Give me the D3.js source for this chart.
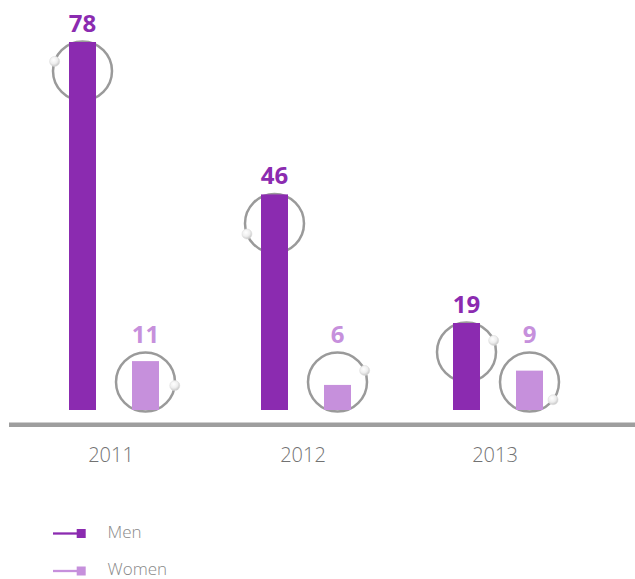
<!DOCTYPE html>
<html>
<head>
<meta charset="utf-8">
<script src="https://cdn.jsdelivr.net/npm/d3@7"></script>
<style>
  html, body { margin: 0; padding: 0; background: #fff; }
  svg { display: block; }
  text { font-family: "Open Sans", "Noto Sans", sans-serif; }
</style>
</head>
<body>
<svg id="chart" width="635" height="579"></svg>
<script>
// Chart data
const years = ["2011", "2012", "2013"];
const seriesNames = ["Men", "Women"];
const menValues = [78, 46, 19];
const womenValues = [11, 6, 9];
// Angle (degrees, clockwise from 3 o'clock) of the small knob on each ring
const menKnobAngles = [199, 159, -23];
const womenKnobAngles = [7, -23, 37];

const colors = { Men: "#8b2bb0", Women: "#c690dc" };
const rows = years.map((yr, i) => ({
  year: yr,
  bars: [
    { key: "Men", value: menValues[i], knob: menKnobAngles[i] },
    { key: "Women", value: womenValues[i], knob: womenKnobAngles[i] }
  ]
}));

const svg = d3.select("#chart");

// Scales
const x0 = d3.scaleBand().domain(years).range([18, 594]).paddingInner(0).paddingOuter(0);
const x1 = d3.scaleBand().domain(seriesNames).range([51, 141]).paddingInner(36 / 63).paddingOuter(0);
const y = d3.scaleLinear().domain([0, 78]).range([413.5, 42]);
const floorY = 410;       // bars rest here, just above the axis rule
const ringR = 29.5;

// Knob gradient
const defs = svg.append("defs");
const grad = defs.append("radialGradient").attr("id", "knobGrad")
  .attr("cx", "40%").attr("cy", "35%").attr("r", "65%");
grad.append("stop").attr("offset", "0%").attr("stop-color", "#ffffff");
grad.append("stop").attr("offset", "60%").attr("stop-color", "#eeeeee");
grad.append("stop").attr("offset", "100%").attr("stop-color", "#c8c8c8");

// Axis rule
svg.append("line")
  .attr("x1", 9).attr("x2", 635)
  .attr("y1", 424.8).attr("y2", 424.8)
  .attr("stroke", "#9e9e9e").attr("stroke-width", 4.5);

// Year labels
const xAxis = d3.axisBottom(x0).tickSize(0).tickPadding(0);
const axisG = svg.append("g").attr("transform", "translate(-3, 448)").call(xAxis);
axisG.select(".domain").remove();
axisG.selectAll("text")
  .attr("dy", "0.71em")
  .attr("fill", "#727272")
  .style("font-size", "20px")
  .style("font-weight", 300)
  .style("font-family", "'Open Sans', 'Noto Sans', sans-serif");

const groups = svg.selectAll("g.year").data(rows).join("g")
  .attr("class", "year")
  .attr("transform", d => `translate(${x0(d.year)},0)`);

const items = groups.selectAll("g.item").data(d => d.bars).join("g").attr("class", "item");

items.each(function(d) {
  const g = d3.select(this);
  const cx = x1(d.key) + x1.bandwidth() / 2;
  const top = y(d.value);
  const cy = Math.min(top + 29, floorY - 28);
  const color = colors[d.key];

  // Ring
  g.append("circle")
    .attr("cx", cx).attr("cy", cy).attr("r", ringR)
    .attr("fill", "none").attr("stroke", "#9a9a9a").attr("stroke-width", 2.5);

  // Knob on the ring
  const a = d.knob * Math.PI / 180;
  g.append("circle")
    .attr("cx", cx + ringR * Math.cos(a))
    .attr("cy", cy + ringR * Math.sin(a))
    .attr("r", 5)
    .attr("fill", "url(#knobGrad)")
    .attr("stroke", "#dddddd").attr("stroke-width", 0.6);

  // Bar
  g.append("rect")
    .attr("x", x1(d.key))
    .attr("y", top)
    .attr("width", x1.bandwidth())
    .attr("height", floorY - top)
    .attr("fill", color);

  // Value label
  const labelBase = Math.min(top, cy - ringR) - 10;
  g.append("text")
    .attr("x", cx).attr("y", labelBase)
    .attr("text-anchor", "middle")
    .attr("fill", color)
    .style("font-size", "24px")
    .style("font-weight", 700)
    .text(d.value);
});

// Legend
const legend = svg.append("g").selectAll("g").data(seriesNames).join("g")
  .attr("transform", (d, i) => `translate(0, ${533.5 + i * 37.5})`);
legend.append("line")
  .attr("x1", 53).attr("x2", 78).attr("y1", 0).attr("y2", 0)
  .attr("stroke", d => colors[d]).attr("stroke-width", 2.3);
legend.append("rect")
  .attr("x", 76.7).attr("y", -4.5).attr("width", 9).attr("height", 9)
  .attr("fill", d => colors[d]);
legend.append("text")
  .attr("x", 107.5).attr("y", 4.3)
  .attr("fill", "#888888")
  .style("font-size", "17px")
  .style("font-weight", 300)
  .text(d => d);
</script>
</body>
</html>
